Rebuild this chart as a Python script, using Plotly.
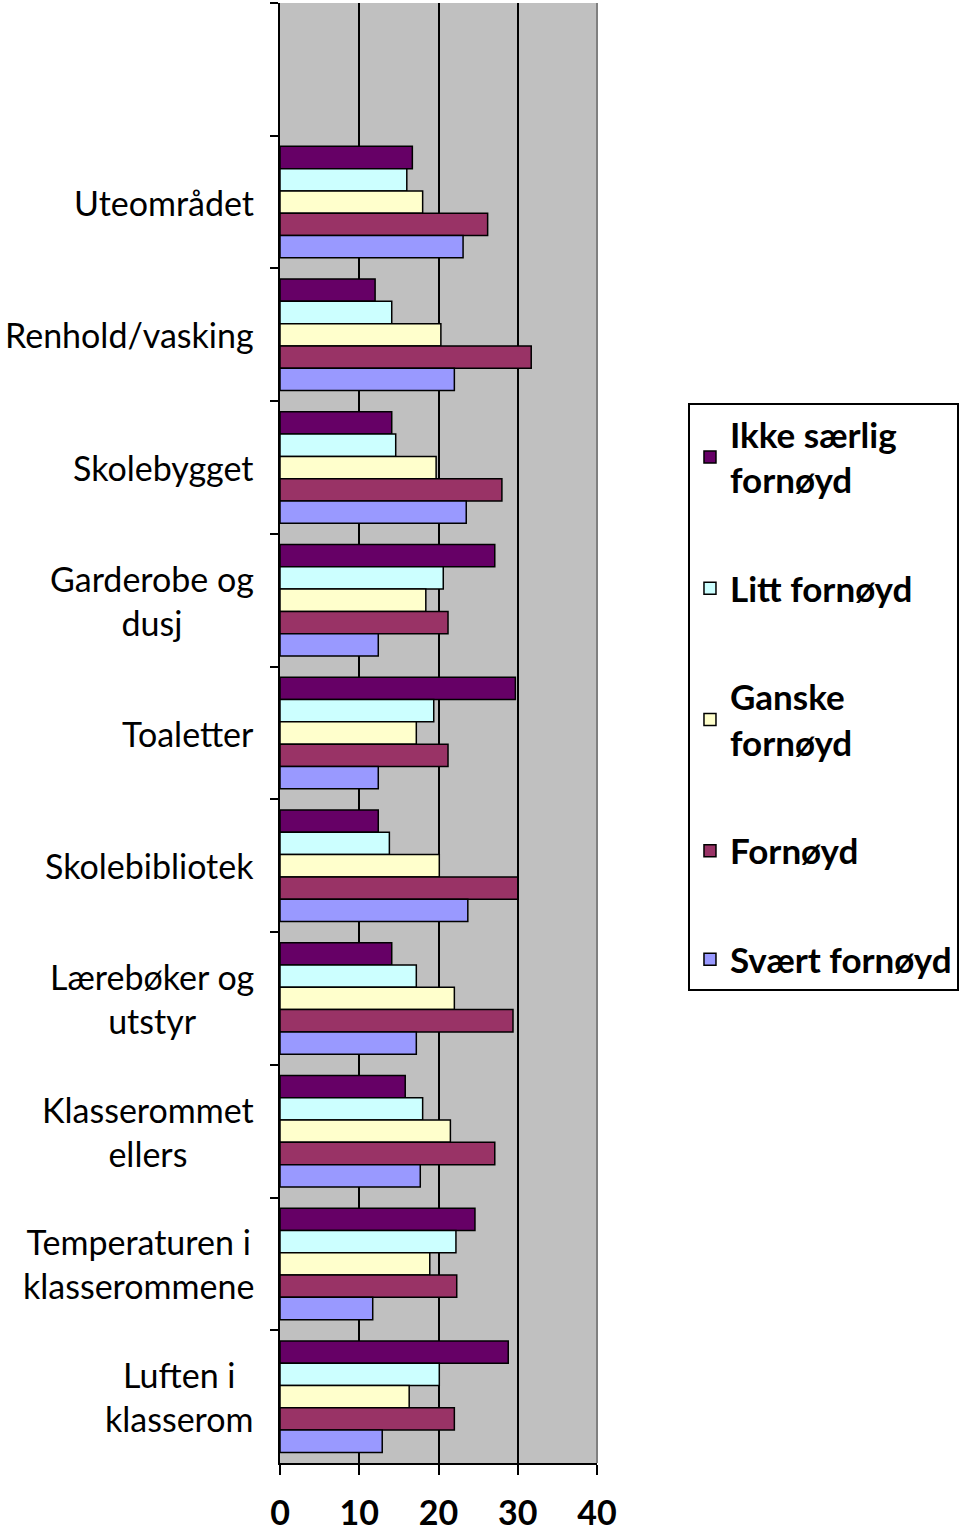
import plotly.graph_objects as go

categories = ["Uteområdet", "Renhold/vasking", "Skolebygget", "Garderobe og<br>dusj",
              "Toaletter", "Skolebibliotek", "Lærebøker og<br>utstyr", "Klasserommet<br>ellers",
              "Temperaturen i<br>klasserommene", "Luften i<br>klasserom"]
blank = " "

series_names = ["Ikke særlig<br>fornøyd", "Litt fornøyd", "Ganske<br>fornøyd", "Fornøyd", "Svært fornøyd"]
ikke_saerlig = [16.7, 12.0, 14.1, 27.1, 29.7, 12.4, 14.1, 15.8, 24.6, 28.8]
litt = [16.0, 14.1, 14.6, 20.6, 19.4, 13.8, 17.2, 18.0, 22.2, 20.1]
ganske = [18.0, 20.3, 19.7, 18.4, 17.2, 20.1, 22.0, 21.5, 18.9, 16.3]
fornoyd = [26.2, 31.7, 28.0, 21.2, 21.2, 30.0, 29.4, 27.1, 22.3, 22.0]
svaert = [23.1, 22.0, 23.5, 12.4, 12.4, 23.7, 17.2, 17.7, 11.7, 12.9]
colors = ["#660066", "#CCFFFF", "#FFFFCC", "#993366", "#9999FF"]
x_ticks = [0, 10, 20, 30, 40]

FONT = "Lato"
fig = go.Figure()
for i, (name, vals) in enumerate(zip(series_names, [ikke_saerlig, litt, ganske, fornoyd, svaert])):
    fig.add_trace(go.Bar(
        y=categories, x=vals, name=name, orientation="h",
        marker=dict(color=colors[i], line=dict(color="black", width=1.5)),
        legendgroup=f"g{i}",
    ))

for c in categories:
    fig.add_annotation(text=c, xref="paper", x=-0.076, xanchor="right",
                       yref="y", y=c, yanchor="middle", align="center", showarrow=False,
                       font=dict(family=FONT, size=34, color="black"))

fig.add_shape(type="line", xref="paper", yref="paper", x0=1, x1=1, y0=0, y1=1,
              line=dict(color="#808080", width=2), layer="above")

fig.update_layout(
    width=960, height=1534,
    margin=dict(l=280, r=363, t=3, b=71, autoexpand=False),
    plot_bgcolor="#C0C0C0", paper_bgcolor="white",
    barmode="group", bargap=0.16, bargroupgap=0,
    font=dict(family=FONT, color="black"),
    legend=dict(x=1.287, y=0.726, xanchor="left", yanchor="top",
                bgcolor="white", bordercolor="black", borderwidth=2,
                font=dict(family=FONT, size=35, weight="bold", color="black"),
                traceorder="grouped", tracegroupgap=60, itemwidth=30),
    xaxis=dict(range=[0, 40], tickvals=x_ticks, ticks="outside", ticklen=10,
               tickwidth=2, tickcolor="black", showline=True, linecolor="black", linewidth=2,
               showgrid=True, gridcolor="black", gridwidth=2, zeroline=False,
               tickfont=dict(family=FONT, size=34, weight="bold", color="black"),
               ticklabelstandoff=9, automargin=False),
    yaxis=dict(type="category", categoryarray=[blank] + categories, range=[10.5, -0.5],
               tickson="boundaries", ticks="outside", ticklen=8, tickwidth=2, tickcolor="black",
               showline=True, linecolor="black", linewidth=2, showgrid=False,
               showticklabels=False, zeroline=False, automargin=False),
)

fig.write_html("out.html")
